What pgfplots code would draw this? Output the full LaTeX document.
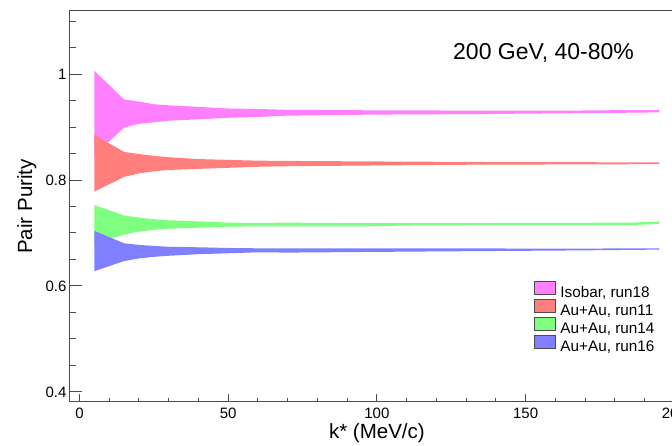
\documentclass[border=0pt]{standalone}
\usepackage{fontspec}
\setmainfont{Liberation Sans}
\usepackage{pgfplots}
\usepackage{pgfplotstable}
\pgfplotsset{compat=1.18}
\usepgfplotslibrary{fillbetween}

\definecolor{isoc}{HTML}{FF7FFF}
\definecolor{run11c}{HTML}{FF7F7F}
\definecolor{run14c}{HTML}{7FFF7F}
\definecolor{run16c}{HTML}{7F7FFF}

% purity bands: k* , lower edge, upper edge
\pgfplotstableread{
x lo hi
5 0.847 1.006
15 0.899 0.952
20 0.906 0.948
25 0.909 0.943
30 0.912 0.941
40 0.9145 0.938
50 0.9175 0.935
60 0.919 0.934
70 0.9215 0.9325
100 0.9235 0.9315
135 0.9245 0.931
165 0.926 0.931
185 0.927 0.932
195 0.9277 0.932
}\isobar

\pgfplotstableread{
x lo hi
5 0.778 0.885
15 0.806 0.853
20 0.8125 0.849
25 0.8165 0.8455
30 0.819 0.843
40 0.821 0.8395
50 0.823 0.838
60 0.825 0.8365
70 0.826 0.836
100 0.8275 0.835
135 0.829 0.834
175 0.8295 0.8335
195 0.830 0.8335
}\runeleven

\pgfplotstableread{
x lo hi
5 0.679 0.7528
15 0.697 0.733
20 0.7025 0.729
25 0.706 0.726
30 0.708 0.724
40 0.710 0.722
50 0.712 0.7195
60 0.7125 0.719
70 0.7125 0.7195
95 0.7125 0.7185
115 0.7145 0.7185
185 0.715 0.7195
195 0.717 0.7215
}\runfourteen

\pgfplotstableread{
x lo hi
5 0.628 0.704
15 0.647 0.6805
20 0.652 0.6775
25 0.655 0.6755
30 0.657 0.674
40 0.660 0.673
50 0.6617 0.6717
60 0.6636 0.6711
70 0.663 0.671
115 0.665 0.671
165 0.667 0.6705
195 0.6686 0.6711
}\runsixteen

\begin{document}
\begin{tikzpicture}
\begin{axis}[
    name=ax,
    scale only axis,
    width=613.8pt, height=391pt,
    xmin=-3.2, xmax=203.2,
    ymin=0.381, ymax=1.119,
    xtick={0,50,100,150,200},
    minor xtick={10,20,30,40,60,70,80,90,110,120,130,140,160,170,180,190},
    ytick={0.4,0.6,0.8,1},
    minor ytick={0.45,0.5,0.55,0.65,0.7,0.75,0.85,0.9,0.95,1.05,1.1},
    tick pos=left,
    tick align=inside,
    major tick length=12pt,
    minor tick length=6.5pt,
    xtick style={/pgfplots/major tick length=8pt, /pgfplots/minor tick length=4pt},
    tick style={black!70, line width=1pt},
    axis line style={black!70, line width=1pt},
    /pgf/number format/assume math mode=true,
    ticklabel style={font=\fontsize{15}{18}\selectfont},
    yticklabel style={inner sep=0pt, xshift=-3.3pt},
    xticklabel style={inner sep=0pt, yshift=-6pt},
    xlabel={k* (MeV/c)},
    ylabel={Pair Purity},
    every axis x label/.style={at={(axis description cs:0.5,-0.0946)}, anchor=base,
        font=\fontsize{20.5}{24}\selectfont},
    every axis y label/.style={at={(axis description cs:-0.0619,0.5)}, rotate=90, anchor=base,
        font=\fontsize{20.5}{24}\selectfont},
    legend image code/.code={\draw[#1, draw=black!70, line width=0.8pt] (0pt,0pt) rectangle (21pt,13pt);},
    legend cell align=left,
    legend style={draw=none, fill=none, at={(axis description cs:0.7565,0.3105)},
        anchor=north west, inner sep=0pt, outer sep=0pt, column sep=4.3pt, row sep=-2.9pt,
        font=\fontsize{15.3}{17}\selectfont,
        nodes={inner sep=0pt, text height=11pt, text depth=4pt}},
]

\addlegendimage{fill=isoc}
\addlegendentry{Isobar, run18}
\addlegendimage{fill=run11c}
\addlegendentry{Au+Au, run11}
\addlegendimage{fill=run14c}
\addlegendentry{Au+Au, run14}
\addlegendimage{fill=run16c}
\addlegendentry{Au+Au, run16}

\addplot[name path=isolo, draw=none, forget plot] table[x=x, y=lo] {\isobar};
\addplot[name path=isohi, draw=none, forget plot] table[x=x, y=hi] {\isobar};
\addplot[fill=isoc, draw=none, forget plot] fill between[of=isolo and isohi];

\addplot[name path=elo, draw=none, forget plot] table[x=x, y=lo] {\runeleven};
\addplot[name path=ehi, draw=none, forget plot] table[x=x, y=hi] {\runeleven};
\addplot[fill=run11c, draw=none, forget plot] fill between[of=elo and ehi];

\addplot[name path=flo, draw=none, forget plot] table[x=x, y=lo] {\runfourteen};
\addplot[name path=fhi, draw=none, forget plot] table[x=x, y=hi] {\runfourteen};
\addplot[fill=run14c, draw=none, forget plot] fill between[of=flo and fhi];

\addplot[name path=slo, draw=none, forget plot] table[x=x, y=lo] {\runsixteen};
\addplot[name path=shi, draw=none, forget plot] table[x=x, y=hi] {\runsixteen};
\addplot[fill=run16c, draw=none, forget plot] fill between[of=slo and shi];

\node[anchor=base west, font=\fontsize{23}{27}\selectfont, inner sep=0pt]
    at (axis description cs:0.624,0.8747) {200 GeV, 40-80\%};
\end{axis}
\pgfresetboundingbox
\path[use as bounding box] ([xshift=-70pt, yshift=-44pt]ax.south west)
    rectangle ([xshift=602pt, yshift=402pt]ax.south west);
\end{tikzpicture}
\end{document}
